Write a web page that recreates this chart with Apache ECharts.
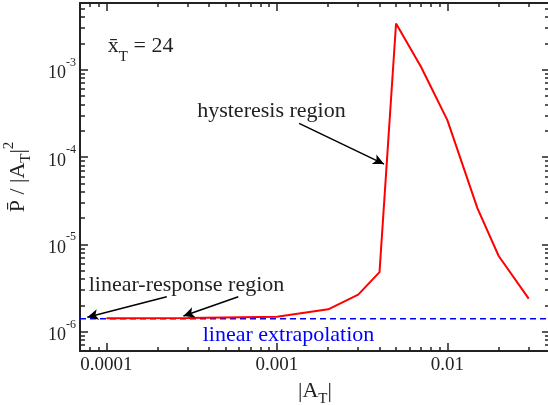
<!DOCTYPE html>
<html>
<head>
<meta charset="utf-8">
<script src="https://cdn.jsdelivr.net/npm/echarts@6/dist/echarts.min.js"></script>
<style>
html, body { margin: 0; padding: 0; background: #fff; }
#chart { width: 548px; height: 405px; }
</style>
</head>
<body>
<div id="chart"></div>
<script>
// |A_T| of each run and the measured P / |A_T|^2
var amp = [0.0001, 0.0003, 0.001, 0.002, 0.003, 0.004, 0.005, 0.007, 0.01, 0.015, 0.02, 0.03];
var power = [1.42e-6, 1.43e-6, 1.48e-6, 1.80e-6, 2.65e-6, 4.8e-6, 3.38e-3, 1.08e-3, 2.64e-4, 2.6e-5, 7.35e-6, 2.39e-6];

// linear extrapolation (dashed)
var extrapAmp = [7e-5, 0.04];
var extrapPower = [1.4e-6, 1.4e-6];

// ticks
var xMajor = [1e-4, 1e-3, 1e-2];
var xTickLabels = ['0.0001', '0.001', '0.01'];
var xMinor = [7e-5, 8e-5, 9e-5, 2e-4, 3e-4, 4e-4, 5e-4, 6e-4, 7e-4, 8e-4, 9e-4,
  2e-3, 3e-3, 4e-3, 5e-3, 6e-3, 7e-3, 8e-3, 9e-3, 2e-2, 3e-2];
var yMajor = [1e-6, 1e-5, 1e-4, 1e-3];
var yTickLabels = ['-6', '-5', '-4', '-3'];
var yMinor = [7e-7, 8e-7, 9e-7, 2e-6, 3e-6, 4e-6, 5e-6, 6e-6, 7e-6, 8e-6, 9e-6,
  2e-5, 3e-5, 4e-5, 5e-5, 6e-5, 7e-5, 8e-5, 9e-5,
  2e-4, 3e-4, 4e-4, 5e-4, 6e-4, 7e-4, 8e-4, 9e-4,
  2e-3, 3e-3, 4e-3, 5e-3];

// annotations (data coordinates)
var arrowFrom = [[1.35e-3, 2.43e-4], [2.26e-4, 2.51e-6], [5.94e-4, 2.51e-6]];
var arrowTo = [[4.25e-3, 8.3e-5], [7.73e-5, 1.46e-6], [2.83e-4, 1.51e-6]];

var FONT = 'Liberation Serif';
var INK = '#222';

function nearestIdx(list, v) {
  var best = 0;
  for (var i = 1; i < list.length; i++) {
    if (Math.abs(Math.log10(list[i] / v)) < Math.abs(Math.log10(list[best] / v))) best = i;
  }
  return best;
}

function xAxisDef(pos, major) {
  return {
    type: 'log', logBase: 10, min: 7e-5, max: 0.04, position: pos,
    axisLine: { show: major, lineStyle: { color: INK, width: 2 } },
    axisTick: { show: true, inside: true, length: major ? 8 : 4,
      customValues: major ? xMajor : xMinor, lineStyle: { color: INK, width: 1.5 } },
    axisLabel: { show: major && pos === 'bottom', customValues: xMajor, margin: 5,
      fontFamily: FONT, fontSize: 19, color: INK,
      formatter: function (v) { return xTickLabels[nearestIdx(xMajor, v)]; } },
    splitLine: { show: false },
    minorTick: { show: false }
  };
}

function yAxisDef(pos, major) {
  return {
    type: 'log', logBase: 10, min: 6e-7, max: 5.8e-3, position: pos,
    axisLine: { show: major, lineStyle: { color: INK, width: 2 } },
    axisTick: { show: true, inside: true, length: major ? 8 : 5,
      customValues: major ? yMajor : yMinor, lineStyle: { color: INK, width: 1.5 } },
    axisLabel: { show: major && pos === 'left', customValues: yMajor, margin: 4,
      fontFamily: FONT, color: INK,
      formatter: function (v) { return '{b|10}{s|' + yTickLabels[nearestIdx(yMajor, v)] + '}'; },
      rich: {
        b: { fontFamily: FONT, fontSize: 18, color: INK, verticalAlign: 'bottom', lineHeight: 26 },
        s: { fontFamily: FONT, fontSize: 12, color: INK, verticalAlign: 'top', lineHeight: 26 }
      } },
    splitLine: { show: false },
    minorTick: { show: false }
  };
}

var chart = echarts.init(document.getElementById('chart'), null, { renderer: 'canvas' });

var xs = [xAxisDef('bottom', true), xAxisDef('bottom', false), xAxisDef('top', true), xAxisDef('top', false)];
xs[0].name = '|A{sub|T}|';
xs[0].nameLocation = 'middle';
xs[0].nameGap = 22;
xs[0].nameTextStyle = { fontFamily: FONT, fontSize: 22, color: INK,
  rich: { sub: { fontFamily: FONT, fontSize: 15, color: INK, verticalAlign: 'bottom', lineHeight: 32 } } };

var ys = [yAxisDef('left', true), yAxisDef('left', false), yAxisDef('right', true), yAxisDef('right', false)];
ys[0].name = 'P\u0304 / |A{sub|T}|{sup|2}';
ys[0].nameLocation = 'middle';
ys[0].nameRotate = 90;
ys[0].nameGap = 46;
ys[0].nameTextStyle = { fontFamily: FONT, fontSize: 22, color: INK,
  rich: {
    sub: { fontFamily: FONT, fontSize: 15, color: INK, verticalAlign: 'bottom', lineHeight: 32 },
    sup: { fontFamily: FONT, fontSize: 15, color: INK, verticalAlign: 'top', lineHeight: 32 }
  } };

var arrows = arrowFrom.map(function (p, i) {
  return [{ coord: p }, { coord: arrowTo[i] }];
});

var option = {
  backgroundColor: '#fff',
  animation: false,
  grid: { left: 80, top: 3, width: 470, height: 348, outerBoundsMode: 'none' },
  xAxis: xs,
  yAxis: ys,
  series: [
    {
      type: 'line',
      data: extrapAmp.map(function (a, i) { return [a, extrapPower[i]]; }),
      showSymbol: false,
      lineStyle: { color: '#0000ff', width: 1.5, type: [6, 4] },
      z: 2,
      markLine: {
        silent: true,
        symbol: ['none', 'arrow'],
        symbolSize: [8, 11],
        label: { show: false },
        lineStyle: { color: '#000', width: 1.5, type: 'solid' },
        data: arrows
      },
      markPoint: {
        silent: true,
        symbol: 'circle',
        symbolSize: 0,
        itemStyle: { color: 'transparent' },
        label: { show: true, position: 'inside', fontFamily: FONT, fontSize: 22, color: INK },
        data: [
          { coord: [9.29e-4, 3.36e-4], label: { formatter: 'hysteresis region' } },
          { coord: [2.95e-4, 3.42e-6], label: { formatter: 'linear-response region' } },
          { coord: [1.17e-3, 9.16e-7], label: { formatter: 'linear extrapolation', color: '#0000ff' } },
          { coord: [1.02e-4, 1.68e-3], label: {
              position: 'right', distance: 0,
              formatter: '{m|x\u0304}{sub|T}{m| = 24}',
              rich: {
                m: { fontFamily: FONT, fontSize: 22, color: INK, verticalAlign: 'top', lineHeight: 30 },
                sub: { fontFamily: FONT, fontSize: 15, color: INK, verticalAlign: 'bottom', lineHeight: 30 }
              } } }
        ]
      }
    },
    {
      type: 'line',
      data: amp.map(function (a, i) { return [a, power[i]]; }),
      showSymbol: false,
      lineStyle: { color: '#ff0000', width: 2 },
      z: 3
    }
  ]
};

chart.setOption(option);
</script>
</body>
</html>
